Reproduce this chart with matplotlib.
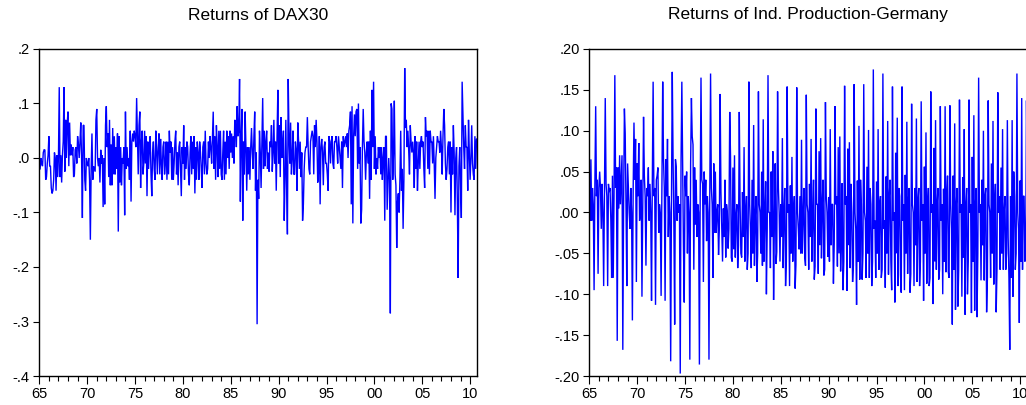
import numpy as np
import matplotlib
matplotlib.use("Agg")
import matplotlib.pyplot as plt
from matplotlib.ticker import FixedLocator, MultipleLocator, FuncFormatter

plt.rcParams['font.family'] = ['Liberation Sans', 'DejaVu Sans']

# ---------------- data (monthly returns, in hundredths, one row per year, 1965-2010) -------------
dax_rows = [
    [-2, -2, 0, -1, -1.5, 1, 1.5, 1.5, -4, -3.5, -1, 0.5],          # 1965
    [4, -1.5, -1.5, -5.5, -6.5, -6, -4, 1, 0, -6, 0.5, -3.5],        # 1966
    [0, 13, -3.5, 0.5, -4.5, 0.5, 3, 13, -2.5, 7, 0, 6.5],           # 1967
    [8.5, -1.5, 6.5, 0.5, 2.5, 0.5, 2, -3.5, -3, 1.5, 2, -1],        # 1968
    [4, 2.5, 0, 3, 6.5, 0, -11, 6, 6, -4, -6, 0],                    # 1969
    [-1, -1.5, 0, -4, -15, -2, 4.5, -4, -1.5, -2, -2.5, 7],          # 1970
    [9, 0, -1.5, 0, -4.5, 1.5, -1, 0.5, -9, 0, -8.5, 6],             # 1971
    [9.5, 2, 4.5, -3.5, 7, -5, 2.5, -5, 5.5, -3, 4, -3],             # 1972
    [2, -2, 4.5, -13.5, 4, -4.5, 2, -5, 0, -1, 2, -10.5],            # 1973
    [8.5, -2, 2, -1.5, 0, -4, 5, -8, 3, 4.5, 3, 5],                  # 1974
    [4, 2, 11, 4, -3, 6, 8.5, -5.5, 3, 5, -3, -1],                   # 1975
    [5, -1, 4, -7, 3, -2, 2, 4, -3, -7, 1, 3],                       # 1976
    [-2, -4, 5, 1.5, -3, 2, 4.5, -3, 3.5, -1, -4, 2],                # 1977
    [3, -3, -1, 3, -4, 3, -3, 5, 1, 3, -4, 2],                       # 1978
    [-4, -1, 3, 5, -3, 1, -5, 2, 3, -2, -7, 2],                      # 1979
    [-1, 6, -4, 2, -2, 3, 2, -3, -5, 1, 4, -3],                      # 1980
    [3, -2, 4, -6.5, 2, -4, 3, 1, -4, 3, 1, -2],                     # 1981
    [-5.5, 2, 3, -3, 5, -1, -3, -2, 3, 0, 4, 2],                     # 1982
    [-1, 4, 8.5, -2, 4, -4, 6, 2, -3.5, 5, -2, 5],                   # 1983
    [-3, -4, 1, 5, -4, 3, -3, 5, 0, 4, -2, 5],                       # 1984
    [1, 4.5, 0, 4, -1, 7, 6, 2, 9.5, 4, 5, 14.5],                    # 1985
    [-8, 4, 9, -11.5, 3, -3, 8.5, 2, -6, 2, -3, 2],                  # 1986
    [-4, 2, 5.5, 1, -2, 4, 8.5, -6, 1, -30.5, -4, -7.5],             # 1987
    [5, 1, -5.5, 3, 11, -2, 5, -1.5, 3, 5, -2, 1],                   # 1988
    [-2.5, 3, 2, 6, -2.5, 1, 7, -1, 3, -6, 4, 12.5],                 # 1989
    [-1, 6, -3.5, 7.5, 0, 2, 5, -11.5, -4, 7, -5, -14],              # 1990
    [14.5, 4, -1, 6.5, -3, 0, 5, -3, -3, 3, 1.5, -6],                # 1991
    [6.5, 3, -2, 3, -3.5, 1, -11.5, -8.5, -2, 1, 2, 2],              # 1992
    [7.5, 2, -2, -3, 3, 4, 5, 4, -3, 6, 2, 7],                       # 1993
    [3, -4.5, -2.5, 4, -8.5, 2, 3.5, 1, -5, 2, 3, -1],               # 1994
    [-1, -3, -6, 4, 3, -1, 3, 4, -1, -2, 3, 3],                      # 1995
    [4, 2, -1, 4, 2, 0, -2, 3, -5.5, 4, 2, 3],                       # 1996
    [4, 2, 4.5, 0, 5, 6, 8.5, -8.5, 9.5, -12, 4, 8],                 # 1997
    [4, 8.5, 9, -2, 10, -1, 2, -12, -9.5, 2, 9, 3],                  # 1998
    [1, -4, 1, 3, -1, 3, -7.5, 5, -4, 12.5, 2, 14],                  # 1999
    [-2, 4, -3, 0, -2, 2, 0, 2, -3, 2, -4, 0],                       # 2000
    [2, -11.5, 4, 4, -9.5, -5, 0, -4, -28.5, 10, 9, -4],             # 2001
    [1, 10.5, -3, -5, -16.5, -8, -6.5, -10, -4, 5, -6, -2],          # 2002
    [-13, -4, 16.5, 5.5, 7, 2, 5, 1.5, -3, 6, 3, 1],                 # 2003
    [3, 1, -5.5, 4, -2, 3, -6, -1, 3, -2, 3, 4],                     # 2004
    [2, 3, -2, -5.5, 7.5, 4, 5, -2, 5, -3, 5, 3],                    # 2005
    [3, -1, 4, -1, -7.5, 0, 2, 4, 3, 3, 1, 5],                       # 2006
    [2, -3, 4, 9, 6, -1, -4, -2, 2, 3, -3, 3],                       # 2007
    [-10, 2, -3, 6, 1, -10.5, 0, 2, -8, -22, -1.5, 2],               # 2008
    [-5, -11, 14, 8, 2, -2, 6, 2, 2, -6, 7, 1],                      # 2009
    [-4, 0, 6, -1, -3, -4, 4, -2, 3.5, 3.5],                         # 2010
]

ip_rows = [
    [1.5, -1, 6.5, -1, 3, 1, -9.5, 3.5, 13, 2, 4, -7.5],             # 1965
    [3, 5, 3, -2, 3.5, 0, -9, 2, 14, 3.5, 2, -9],                    # 1966
    [3.5, 2.5, 3, -1, -8, 4.5, -8, 2, 16.8, 3, 5.5, -15.7],          # 1967
    [5.5, 0.5, 7, 1, 4, 7, -16.8, 1, 12.7, 9.7, 1, -9],              # 1968
    [6, 3, 0, -2, 3, 0, -13.2, 3, 11, 4, 9, -8.5],                   # 1969
    [6, 2, 8.5, -1, 0, 4, -10.3, 1, 11.7, 4.5, 2, -6.5],             # 1970
    [3, 2, 5.5, -1, 3.5, 0, -10.8, 4, 16, 2, 3, -11.3],              # 1971
    [4, 4.5, 5.5, -2.5, 1, 0, -10.2, 3, 16, 6.5, 3, -10.8],          # 1972
    [6.5, 2, 9, -3, 2, 0, -18.2, 1.5, 17.2, 6.5, -1.5, -13.7],       # 1973
    [6.5, 5.5, -1, 2, 0, 1, -19.7, 6.5, 16, 6.5, -4, -11],           # 1974
    [4.5, 2, 5, -5, 2, 0, -18, 6, 14, 9.3, 8.3, -7],                 # 1975
    [5.5, -1.5, 4, -3, 1, 0, -18.6, 2, 16.5, 4, 3.5, -8.5],          # 1976
    [5, 1, 4, -3.5, 2, 0, -18, 2, 17, 3, 1, -8],                     # 1977
    [6, -2.5, 5, -2.5, 0, 1, -5.2, -2, 14.5, 2.5, -2, -6],           # 1978
    [0.5, -3, 4, -5.5, 1, 0, -4.4, -2, 12.3, 7, -5.5, -6],           # 1979
    [5.5, -4.5, 7, -5.5, -0.5, 1, -6.8, -4, 12.3, 1, -5, -5.5],      # 1980
    [2.5, -3, 8, -6, 0, 2, -7, -5, 16, 1, -2, -6.8],                 # 1981
    [4, -5, 10.7, -6.5, -0.5, 2, -8.5, -5, 14.8, 1, 0, -5],          # 1982
    [5, -6.5, 11.4, -6, 0, 3.8, -10, -2, 16.8, 0, 0, -6.8],          # 1983
    [5, -3, 7.5, -10.7, -1, 6, -6.3, -4.8, 14.8, 3, 0, -6],          # 1984
    [1, -3, 9.1, -6.8, 0, 3, -9, -6, 15.4, 0, 1, -9],                # 1985
    [3.3, -5, 6.8, -6, 0, 2, -9.3, -6.4, 15.3, 0, -2, -4.5],         # 1986
    [2, -5, 8.9, -5, -0.5, 3, -5.4, -6.5, 14.4, 1, 0, -7],           # 1987
    [3.5, -3, 9, -6, -0.5, 4, -8.2, -6.6, 12.7, 1, 1, -7.5],         # 1988
    [7.5, -4, 9.1, -5.6, 1, 4, -7.7, -7, 13.5, 2, 0, -5.4],          # 1989
    [1.9, -6, 10.2, -4, 1, 1, -8.7, -3.8, 13, 1, 2, -6.6],           # 1990
    [8, -5, 9.3, -7.2, -3, 3.6, -9.5, -6, 15.5, 1, 2, -9.6],         # 1991
    [7.8, -4, 8.6, -6.8, 3.5, 0, -8.5, -6.5, 15.7, 0, -2, -11.3],    # 1992
    [3.9, -6, 10.6, -8.2, 4, 1, -8.2, -5, 15.7, 0, -1, -8],          # 1993
    [5.6, -5, 10.1, -8, 3, 1, -9, -6, 17.5, -2, -1, -8],             # 1994
    [3.8, -5, 10.2, -7, 1, 2, -8, -7, 17, -2, -1, -9.2],             # 1995
    [4.4, -5, 11.2, -7.6, 2, 4, -6, -9.5, 15.4, -1, 0, -11],         # 1996
    [7.3, -5, 11.6, -9, 3, 2, -7.6, -9.8, 15.4, -1, 1, -9.5],        # 1997
    [4.6, -5, 11.1, -7.5, 1.5, 3, -9.8, -7.5, 13.3, 1, 0, -9],       # 1998
    [3, -4, 11.5, -8.5, 1.5, 3, -9, -6, 13.6, -1, 1, -10.8],         # 1999
    [5.6, -5, 9.8, -8.7, 1, 3, -9, -8, 14.8, 0, 1, -11.2],           # 2000
    [7.9, -6, 11.3, -7, 1, 3, -8.2, -7, 13, -1, 1, -10],             # 2001
    [2.9, -6, 13, -7.3, 2, 4.5, -7.3, -8, 13.1, 1, -2, -13.7],       # 2002
    [4.5, -7, 10.9, -11.9, 1, 3, -11.5, -7, 13.8, 0, 1, -10.3],      # 2003
    [4.3, -5.5, 10.2, -12.5, 1, 3, -10, -6, 13.8, 0, 1, -12.3],      # 2004
    [6.8, -6, 11.9, -12, 1, 3, -12.8, -5, 16.5, 0, 1, -8.3],         # 2005
    [4, -4, 10, -8.3, 2, 3, -12.2, -8, 13.7, 1, 0, -8],              # 2006
    [6, -5, 11.2, -8.8, 1, 3.5, -12.2, -7, 14.7, 0, 2, -7],          # 2007
    [5.5, -5, 10.2, -7, 0, 2, -7, -5, 11.3, -3, -8, -16.8],          # 2008
    [2, -8, 11.3, -10.3, 5, 2, -7, -5, 17, 0, -2, -13.5],            # 2009
    [3.9, -6, 14, -7, 2, 2, -6, -4, 13.7, 3],                        # 2010
]

start_year = 1965
x_ticks = [1965, 1970, 1975, 1980, 1985, 1990, 1995, 2000, 2005, 2010]
x_ticklabels = ['65', '70', '75', '80', '85', '90', '95', '00', '05', '10']
titles = ['Returns of DAX30', 'Returns of Ind. Production-Germany']

dax = np.concatenate([np.array(r, float) for r in dax_rows]) / 100.0
ip = np.concatenate([np.array(r, float) for r in ip_rows]) / 100.0
t_dax = start_year + np.arange(len(dax)) / 12.0
t_ip = start_year + np.arange(len(ip)) / 12.0

# ---------------- figure ----------------
W, H = 1026, 405
fig = plt.figure(figsize=(W / 100, H / 100), dpi=100)

def px_axes(x0, x1, ytop, ybot):
    return fig.add_axes([x0 / W, 1 - ybot / H, (x1 - x0) / W, (ybot - ytop) / H])

ax1 = px_axes(39.3, 477.3, 49, 376)
ax2 = px_axes(589.3, 1027.3, 49, 376)

def fmt_factory(dec):
    def f(v, pos):
        s = f'{v:.{dec}f}'
        if s.startswith('-0.'):
            s = '-' + s[2:]
        elif s.startswith('0.'):
            s = s[1:]
        if set(s.replace('-', '').replace('.', '')) == {'0'}:
            s = s.replace('-', '')
        return s
    return FuncFormatter(f)

for ax, t, y, ylim, ystep, dec, title in [
    (ax1, t_dax, dax, (-0.4, 0.2), 0.1, 1, titles[0]),
    (ax2, t_ip, ip, (-0.2, 0.2), 0.05, 2, titles[1]),
]:
    ax.plot(t, y, color='#0000FF', lw=1.0, solid_joinstyle='miter')
    ax.set_xlim(start_year, t[-1])
    ax.set_ylim(*ylim)
    ax.xaxis.set_major_locator(FixedLocator(x_ticks))
    ax.set_xticklabels(x_ticklabels)
    ax.xaxis.set_minor_locator(MultipleLocator(1))
    ax.yaxis.set_major_locator(MultipleLocator(ystep))
    ax.yaxis.set_major_formatter(fmt_factory(dec))
    ax.tick_params(axis='both', which='both', direction='out', width=0.8,
                   labelsize=10.5, top=False, right=False, colors='black')
    ax.tick_params(axis='x', which='major', length=5.5, pad=2.5)
    ax.tick_params(axis='x', which='minor', length=3.5)
    ax.tick_params(axis='y', which='major', length=4.5, pad=2.5)
    for sp in ax.spines.values():
        sp.set_linewidth(1.0)
        sp.set_color('black')
    cx = (ax.get_position().x0 + ax.get_position().x1) / 2
    fig.text(cx, 1 - 15 / H, title, ha='center', va='center', fontsize=12.5)

fig.savefig('out.png', dpi=100)
